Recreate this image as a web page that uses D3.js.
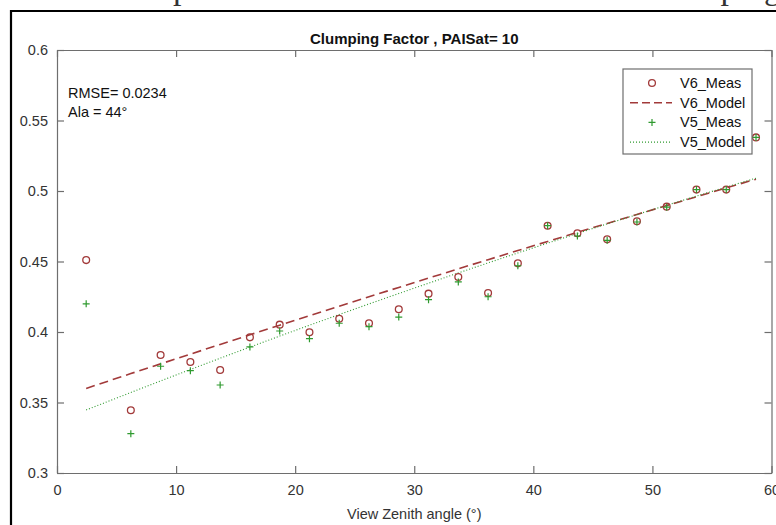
<!DOCTYPE html>
<html>
<head>
<meta charset="utf-8">
<script src="https://cdn.jsdelivr.net/npm/d3@7"></script>
<style>
  body { margin: 0; background: #fff; }
  svg { display: block; }
</style>
</head>
<body>
<svg width="776" height="525"></svg>
<script>
// view zenith angles (deg)
var angles = [2.45, 6.2, 8.7, 11.2, 13.7, 16.2, 18.7, 21.2, 23.7, 26.2, 28.7, 31.2,
              33.7, 36.2, 38.7, 41.2, 43.7, 46.2, 48.7, 51.2, 53.7, 56.2, 58.7];

var v6Meas = [0.451, 0.3445, 0.3837, 0.3787, 0.373, 0.3962, 0.4052, 0.3998, 0.4094, 0.4062, 0.4161, 0.4272,
              0.439, 0.4277, 0.4487, 0.4754, 0.470, 0.4657, 0.4785, 0.4889, 0.501, 0.501, 0.538];
var v5Meas = [0.420, 0.3279, 0.3757, 0.3726, 0.3624, 0.3894, 0.4007, 0.3953, 0.4062, 0.4038, 0.4106, 0.4229,
              0.4355, 0.425, 0.447, 0.4754, 0.4681, 0.465, 0.478, 0.4885, 0.501, 0.501, 0.538];
var v6Model = [0.360, 0.3705, 0.3774, 0.3843, 0.3912, 0.398, 0.4048, 0.4116, 0.4183, 0.425, 0.4316, 0.4382,
               0.4448, 0.4513, 0.4578, 0.4642, 0.4707, 0.477, 0.4834, 0.4897, 0.4959, 0.5022, 0.5084];
var v5Model = [0.3447, 0.3571, 0.3653, 0.3734, 0.3814, 0.3893, 0.3971, 0.4048, 0.4124, 0.4199, 0.4273, 0.4346,
               0.4419, 0.449, 0.4561, 0.463, 0.4699, 0.4767, 0.4833, 0.4899, 0.4964, 0.5028, 0.5091];

var xTicks = [0, 10, 20, 30, 40, 50, 60];
var yTicks = [0.3, 0.35, 0.4, 0.45, 0.5, 0.55, 0.6];
var legendNames = ["V6_Meas", "V6_Model", "V5_Meas", "V5_Model"];

var svg = d3.select("svg"),
    width = +svg.attr("width"),
    height = +svg.attr("height");

var red = "#a23a3a", green = "#2f9a2f", axisCol = "#6e6e6e", textCol = "#333";
var font = "Liberation Sans, Arial, sans-serif";

var plotL = 57, plotR = 771.5, plotT = 50, plotB = 473;

var x = d3.scaleLinear().domain([0, 60]).range([plotL, plotR]);
var y = d3.scaleLinear().domain([0.3, 0.6]).range([plotB, plotT]);

// page frame and the document caption above it, cut by the top edge
svg.append("text")
    .attr("x", 70).attr("y", -1)
    .attr("font-family", "Liberation Serif, Times New Roman, serif")
    .attr("font-size", 34).attr("fill", "#333")
    .text("Scatter plot of the measured and modelled clumping");
svg.append("path")
    .attr("d", "M11," + height + "V11H" + width)
    .attr("fill", "none").attr("stroke", "#000").attr("stroke-width", 2.2);

// axes
function styleAxis(g) {
  g.selectAll("path").attr("stroke", axisCol).attr("stroke-width", 1.2);
  g.selectAll("line").attr("stroke", axisCol).attr("stroke-width", 1.2);
  g.selectAll("text").attr("fill", textCol).attr("font-family", font).attr("font-size", 14.5);
}

svg.append("g").attr("transform", "translate(0," + plotB + ")")
  .call(d3.axisBottom(x).tickValues(xTicks).tickSizeInner(-7).tickSizeOuter(0).tickPadding(12))
  .call(styleAxis);
svg.append("g").attr("transform", "translate(0," + plotT + ")")
  .call(d3.axisTop(x).tickValues(xTicks).tickSizeInner(-7).tickSizeOuter(0).tickFormat(""))
  .call(styleAxis);
svg.append("g").attr("transform", "translate(" + plotL + ",0)")
  .call(d3.axisLeft(y).tickValues(yTicks).tickSizeInner(-7).tickSizeOuter(0).tickPadding(9)
        .tickFormat(function(d) { return String(+d.toFixed(2)); }))
  .call(styleAxis);
svg.append("g").attr("transform", "translate(" + plotR + ",0)")
  .call(d3.axisRight(y).tickValues(yTicks).tickSizeInner(-7).tickSizeOuter(0).tickFormat(""))
  .call(styleAxis);

// title and labels
svg.append("text")
    .attr("x", (plotL + plotR) / 2).attr("y", 44)
    .attr("text-anchor", "middle")
    .attr("font-family", font).attr("font-size", 15).attr("font-weight", "bold")
    .attr("fill", "#111")
    .text("Clumping Factor , PAISat= 10");
svg.append("text")
    .attr("x", (plotL + plotR) / 2).attr("y", 519)
    .attr("text-anchor", "middle")
    .attr("font-family", font).attr("font-size", 14.5)
    .attr("fill", textCol)
    .text("View Zenith angle (\u00B0)");

svg.append("text").attr("x", 68).attr("y", 98)
    .attr("font-family", font).attr("font-size", 14.5).attr("fill", "#111")
    .text("RMSE= 0.0234");
svg.append("text").attr("x", 68).attr("y", 117)
    .attr("font-family", font).attr("font-size", 14.5).attr("fill", "#111")
    .text("Ala = 44\u00B0");

// model lines
var line = function(vals) {
  return d3.line()
    .x(function(d, i) { return x(angles[i]); })
    .y(function(d) { return y(d); })(vals);
};
svg.append("path").attr("d", line(v6Model))
    .attr("fill", "none").attr("stroke", red).attr("stroke-width", 1.6)
    .attr("stroke-dasharray", "9,5");
svg.append("path").attr("d", line(v5Model))
    .attr("fill", "none").attr("stroke", green).attr("stroke-width", 1.1)
    .attr("stroke-dasharray", "1,2");

// measurements
svg.append("g").selectAll("circle")
    .data(v6Meas).enter().append("circle")
    .attr("cx", function(d, i) { return x(angles[i]); })
    .attr("cy", function(d) { return y(d); })
    .attr("r", 3.4)
    .attr("fill", "none").attr("stroke", red).attr("stroke-width", 1.3);

svg.append("g").selectAll("path")
    .data(v5Meas).enter().append("path")
    .attr("d", function(d, i) {
      var cx = x(angles[i]), cy = y(d);
      return "M" + (cx - 3.5) + "," + cy + "H" + (cx + 3.5) + "M" + cx + "," + (cy - 3.5) + "V" + (cy + 3.5);
    })
    .attr("stroke", green).attr("stroke-width", 1.2);

// legend
var lg = svg.append("g").attr("transform", "translate(623,69)");
lg.append("rect").attr("width", 129).attr("height", 85)
    .attr("fill", "#fff").attr("stroke", axisCol).attr("stroke-width", 1.2);
legendNames.forEach(function(name, i) {
  var ly = 14 + i * 19.7;
  if (i === 0) {
    lg.append("circle").attr("cx", 29).attr("cy", ly).attr("r", 3.4)
      .attr("fill", "none").attr("stroke", red).attr("stroke-width", 1.3);
  } else if (i === 1) {
    lg.append("line").attr("x1", 7).attr("x2", 49).attr("y1", ly).attr("y2", ly)
      .attr("stroke", red).attr("stroke-width", 1.6).attr("stroke-dasharray", "8,4");
  } else if (i === 2) {
    lg.append("path")
      .attr("d", "M25.5," + ly + "H32.5M29," + (ly - 3.5) + "V" + (ly + 3.5))
      .attr("stroke", green).attr("stroke-width", 1.2);
  } else {
    lg.append("line").attr("x1", 7).attr("x2", 49).attr("y1", ly).attr("y2", ly)
      .attr("stroke", green).attr("stroke-width", 1.1).attr("stroke-dasharray", "1,2");
  }
  lg.append("text").attr("x", 57).attr("y", ly + 5)
    .attr("font-family", font).attr("font-size", 14.5).attr("fill", "#111")
    .text(name);
});
</script>
</body>
</html>
